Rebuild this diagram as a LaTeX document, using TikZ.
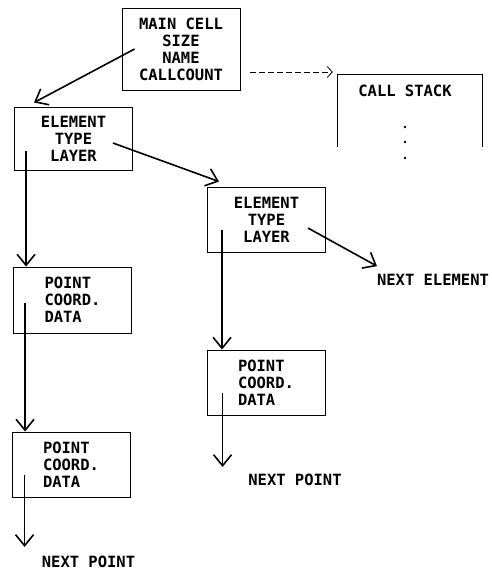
\documentclass[tikz,border=0pt]{standalone}
\usepackage{fontspec}
\newfontfamily\listfont{DejaVu Sans Mono}
\usetikzlibrary{arrows.meta}
\newcommand{\recfont}{\listfont\bfseries\fontsize{15.5}{17}\selectfont}
\tikzset{
  record/.style   = {rectangle, draw=black, line width=0.9pt,
                     minimum width=118pt, minimum height=65pt,
                     align=center, font=\recfont},
  ptrecord/.style = {record, align=left},
  label/.style    = {font=\recfont, inner sep=0pt},
  link/.style     = {-{Straight Barb[length=11pt,width=18pt]}, line width=1.6pt},
  dashlink/.style = {-{Straight Barb[length=5pt,width=11pt]}, line width=0.8pt,
                     dash pattern=on 6pt off 3pt}
}
\begin{document}
\begin{tikzpicture}[x=1pt, y=-1pt]
  \useasboundingbox (0,0) rectangle (492,574);
  % cell header and call stack
  \node[record, minimum height=82pt] (main) at (181,49)
       {MAIN CELL\\SIZE\\NAME\\CALLCOUNT};
  \node[minimum width=144pt, minimum height=72pt, inner sep=0pt] (stack) at (410,111) {};
  \draw[line width=0.9pt] (stack.south west) -- (stack.north west)
       -- (stack.north east) -- (stack.south east);
  \node[label] (stacktitle) at (405,91) {CALL STACK};
  \foreach \d in {127,142,158}{
    \fill (405,\d) circle (1.4pt);
  }
  % element records
  \node[record, minimum height=63pt] (elem1) at (73.5,138.5) {ELEMENT\\TYPE\\LAYER};
  \node[record] (elem2) at (266.5,219.5) {ELEMENT\\TYPE\\LAYER};
  % point records
  \node[ptrecord, minimum height=66pt] (pt1) at (72.5,300) {POINT\\COORD.\\DATA};
  \node[ptrecord] (pt2) at (266,382.5) {POINT\\COORD.\\DATA};
  \node[ptrecord] (pt3) at (71,464.5) {POINT\\COORD.\\DATA};
  % open ends of the lists
  \node[label] (nextel) at (433,280) {NEXT ELEMENT};
  \node[label] (nextpt2) at (295,480) {NEXT POINT};
  \node[label] (nextpt3) at (88.5,562) {NEXT POINT};
  % pointers
  \draw[dashlink] ([shift={(10,23)}]main.east) -- ([shift={(-5,-39)}]stack.west);
  \draw[link] ([shift={(13,0)}]main.west) -- ([shift={(20,-4)}]elem1.north west);
  \draw[link] ([shift={(-20,4.5)}]elem1.east) -- ([shift={(12,-5)}]elem2.north west);
  \draw[link] ([shift={(-18,8.5)}]elem2.east) -- ([shift={(-56,-8)}]nextel.north);
  \coordinate (e1s) at ([shift={(12,12)}]elem1.west);
  \draw[link] (e1s) -- (e1s |- pt1.north);
  \coordinate (e2s) at ([shift={(15,10)}]elem2.west);
  \draw[link] (e2s) -- (e2s |- pt2.north);
  \coordinate (p1s) at ([shift={(12,3)}]pt1.west);
  \draw[link] (p1s) -- (p1s |- pt3.north);
  \coordinate (p2s) at ([shift={(16,10)}]pt2.west);
  \draw[link] (p2s) -- ([yshift=7pt]p2s |- nextpt2.north);
  \coordinate (p3s) at ([shift={(13,10)}]pt3.west);
  \draw[link] (p3s) -- ([yshift=9pt]p3s |- nextpt3.north);
\end{tikzpicture}
\end{document}
